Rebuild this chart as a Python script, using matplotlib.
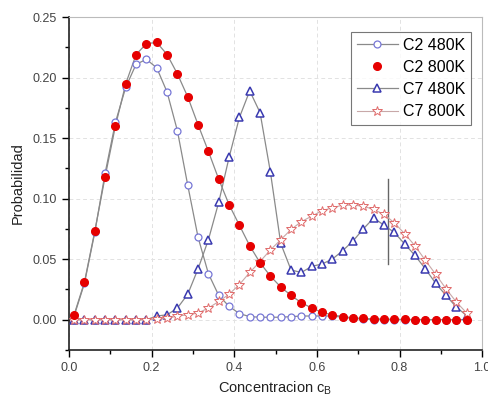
import numpy as np
import matplotlib
matplotlib.use('Agg')
import matplotlib.pyplot as plt
from matplotlib.ticker import MultipleLocator

plt.rcParams['font.family'] = ['Liberation Sans', 'DejaVu Sans']

# concentration bins (centres)
conc = [0.0125 + 0.025 * k for k in range(39)]

c2_480 = [0.003, 0.030, 0.072, 0.121, 0.163, 0.192, 0.211, 0.215, 0.208, 0.188,
          0.156, 0.111, 0.068, 0.038, 0.020, 0.011, 0.005, 0.0025, 0.002, 0.002,
          0.002, 0.0025, 0.003, 0.003, 0.003, 0.003, 0.002, 0.001, 0.0005, 0.0,
          0.0, 0.0, 0.0, 0.0, 0.0, 0.0, 0.0, 0.0, 0.0]
c2_800 = [0.004, 0.031, 0.073, 0.118, 0.160, 0.195, 0.219, 0.228, 0.229, 0.219,
          0.203, 0.184, 0.161, 0.139, 0.116, 0.095, 0.078, 0.061, 0.047, 0.036,
          0.027, 0.020, 0.014, 0.0096, 0.006, 0.004, 0.0025, 0.0015, 0.001, 0.0007,
          0.0005, 0.0003, 0.0002, 0.0001, 0.0001, 0.0, 0.0, 0.0, 0.0]
c7_480 = [0.0, 0.0, 0.0, 0.0, 0.0, 0.0, 0.0, 0.0, 0.003, 0.004,
          0.0096, 0.021, 0.042, 0.066, 0.097, 0.134, 0.167, 0.189, 0.171, 0.122,
          0.063, 0.041, 0.039, 0.044, 0.046, 0.050, 0.057, 0.065, 0.075, 0.084,
          0.078, 0.072, 0.0625, 0.053, 0.042, 0.030, 0.020, 0.0104, 0.0033]
c7_800 = [0.0, 0.0, 0.0, 0.0, 0.0, 0.0, 0.0, 0.0, 0.0005, 0.001,
          0.003, 0.004, 0.0055, 0.0096, 0.015, 0.021, 0.029, 0.039, 0.048, 0.0576,
          0.066, 0.0745, 0.081, 0.0855, 0.090, 0.0924, 0.0946, 0.0946, 0.0937, 0.091,
          0.087, 0.080, 0.071, 0.061, 0.049, 0.0375, 0.0255, 0.0146, 0.0055]

# short vertical marker line
mark_x = 0.772
mark_lo = 0.046
mark_hi = 0.116

fig = plt.figure(figsize=(4.89, 4.05), dpi=100)
ax = fig.add_axes([0.141, 0.136, 0.845, 0.822])

line_col = '#8a8a8a'
ax.plot(conc, c2_800, color=line_col, lw=0.9, zorder=2)
ax.plot(conc, c2_480, color=line_col, lw=0.9, marker='o', ms=5,
        mfc='white', mec='#7777d6', mew=0.9, label='C2 480K', zorder=3)
ax.plot(conc, c2_800, ls='none', marker='o', ms=5.5, mfc='#e60000',
        mec='#e60000', label='C2 800K', zorder=4)
ax.plot(conc, c7_480, color=line_col, lw=0.9, marker='^', ms=6,
        mfc='white', mec='#3a3ab0', mew=1.1, label='C7 480K', zorder=3)
ax.plot(conc, c7_800, color='#c8a8a8', lw=0.8, marker='*', ms=7,
        mfc='white', mec='#e06a6a', mew=0.7, label='C7 800K', zorder=3)

ax.plot([mark_x, mark_x], [mark_lo, mark_hi], color='#666666', lw=1.0)

ax.set_xlim(0, 1.0)
ax.set_ylim(-0.025, 0.25)
ax.set_xticks(np.arange(0, 1.01, 0.2))
ax.set_yticks(np.arange(0, 0.251, 0.05))
ax.xaxis.set_minor_locator(MultipleLocator(0.1))
ax.yaxis.set_minor_locator(MultipleLocator(0.025))
ax.set_xticklabels(['0.0', '0.2', '0.4', '0.6', '0.8', '1.0'])
ax.set_yticklabels(['0.00', '0.05', '0.10', '0.15', '0.20', '0.25'])
ax.tick_params(which='major', direction='out', length=5, width=1.0,
               labelsize=9, labelcolor='#444444', top=False, right=False)
ax.tick_params(which='minor', direction='out', length=3, width=1.0,
               top=False, right=False)

ax.grid(True, which='major', color='#e2e2e2', ls=(0, (4, 3)), lw=0.7)
ax.set_axisbelow(True)

for s in ['top', 'right']:
    ax.spines[s].set_color('#bbbbbb')
    ax.spines[s].set_linewidth(0.8)
for s in ['left', 'bottom']:
    ax.spines[s].set_color('#222222')
    ax.spines[s].set_linewidth(1.2)

ax.set_xlabel('Concentracion c$_\\mathregular{B}$', fontsize=10.5, color='#222222')
ax.set_ylabel('Probabilidad', fontsize=10.5, color='#222222', labelpad=6)

leg = ax.legend(loc='upper right', bbox_to_anchor=(0.973, 0.955), fontsize=11.5,
                frameon=True, fancybox=False, edgecolor='#555555',
                handlelength=2.6, handletextpad=0.3, borderpad=0.35,
                labelspacing=0.45, borderaxespad=0.0)
leg.get_frame().set_linewidth(0.8)

plt.savefig('out.png', dpi=100)
plt.close()
